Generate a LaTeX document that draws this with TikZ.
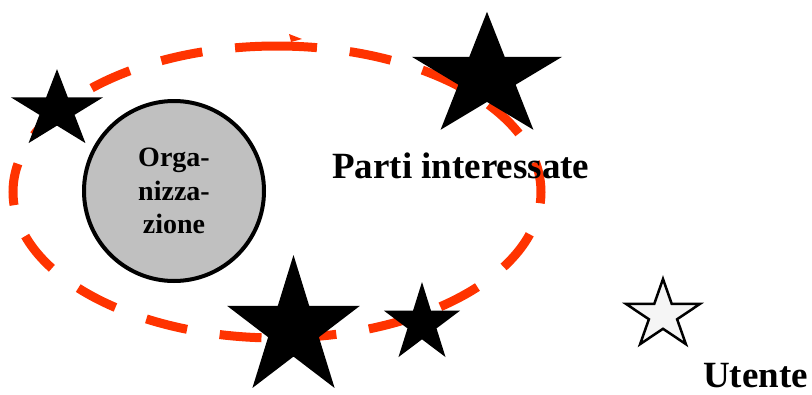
\documentclass[tikz,border=0pt]{standalone}
\usepackage{fontspec}
\setmainfont{Liberation Serif}
\begin{document}
\begin{tikzpicture}[x=1pt,y=-1pt,
  ring/.style={draw=ringred, line width=9pt, dash pattern=on 42pt off 33pt},
  orgcircle/.style={circle, draw=black, line width=4pt, fill=orggray, minimum size=180pt, inner sep=0pt, align=center, font=\bfseries\fontsize{28}{33.5}\selectfont},
  bigtext/.style={font=\bfseries\fontsize{37}{44}\selectfont, inner sep=0pt},
  blackstar/.style={fill=black},
  whitestar/.style={fill=starwhite, draw=black, line width=2.5pt, line join=miter},
  starpic/.pic={\path[pic actions] (0,-1) -- (-0.2245,-0.309) -- (-0.951,-0.309) -- (-0.363,0.118) -- (-0.588,0.809) -- (0,0.382) -- (0.588,0.809) -- (0.363,0.118) -- (0.951,-0.309) -- (0.2245,-0.309) -- cycle;}
]
\definecolor{ringred}{RGB}{255,51,0}
\definecolor{orggray}{RGB}{192,192,192}
\definecolor{starwhite}{RGB}{245,245,245}
\useasboundingbox (0,0) rectangle (812,394);
% ring
\coordinate (rc) at (277,192);
\draw[ring] (277,46) arc[start angle=-90, end angle=-450, x radius=264, y radius=146];
\fill[ringred] (289,34) -- (302,39) -- (291,42) -- cycle;
% organisation
\node[orgcircle] (org) at (174,191) {Orga-\\nizza-\\zione};
% stars
\pic[blackstar, xscale=48.4, yscale=40.9] (s1) at (57,110) {starpic};
\pic[blackstar, xscale=78.9, yscale=65.2] (s2) at (487,77) {starpic};
\pic[blackstar, xscale=69.9, yscale=73.5] (s3) at (293.5,328.5) {starpic};
\pic[blackstar, xscale=40, yscale=41.5] (s4) at (422,323.5) {starpic};
\pic[whitestar, xscale=38.9, yscale=36] (s5) at (663,315) {starpic};
% labels
\node[bigtext, anchor=base west] (parti) at (332,178) {Parti interessate};
\node[bigtext, anchor=base west] (utente) at (703,387) {Utente};
\end{tikzpicture}
\end{document}
